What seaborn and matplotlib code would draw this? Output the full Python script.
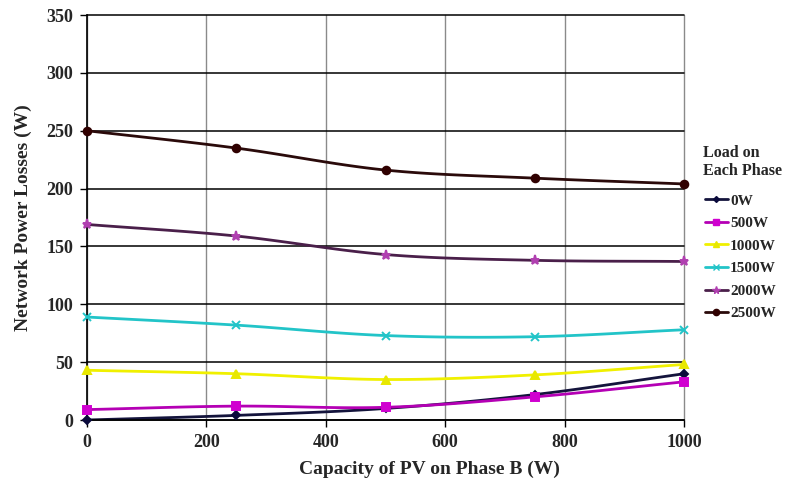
import numpy as np
import pandas as pd
import matplotlib
matplotlib.use("Agg")
import matplotlib.pyplot as plt
from matplotlib.lines import Line2D
import seaborn as sns

# PV capacity on phase B (W)
pv_capacity = [0, 250, 500, 750, 1000]

# Network power losses (W) for each per-phase load
loss_0w = [0, 4, 10, 22, 40]
loss_500w = [9, 12, 11, 20, 33]
loss_1000w = [43, 40, 35, 39, 48]
loss_1500w = [89, 82, 73, 72, 78]
loss_2000w = [169, 159, 143, 138, 137]
loss_2500w = [250, 235, 216, 209, 204]

series_names = ["0W", "500W", "1000W", "1500W", "2000W", "2500W"]
series_values = [loss_0w, loss_500w, loss_1000w, loss_1500w, loss_2000w, loss_2500w]
line_colors = ["#14143c", "#b400b4", "#f0f000", "#22c4c8", "#4a1f4a", "#2a0a0a"]
marker_colors = ["#0a0a3c", "#d000d0", "#e8e800", "#22c4c8", "#b040b0", "#300000"]
markers = ["D", "s", "^", "x", "*", "o"]
marker_sizes = [4, 5.5, 5.5, 5.5, 6.5, 5.5]


def smooth_curve(x, y, n=30):
    """Catmull-Rom spline through the points, like a smoothed spreadsheet line."""
    x = np.asarray(x, float)
    y = np.asarray(y, float)
    px = np.concatenate([[2 * x[0] - x[1]], x, [2 * x[-1] - x[-2]]])
    py = np.concatenate([[2 * y[0] - y[1]], y, [2 * y[-1] - y[-2]]])
    xs, ys = [], []
    t = np.linspace(0, 1, n, endpoint=False)
    for i in range(1, len(px) - 2):
        for p, out in ((px, xs), (py, ys)):
            p0, p1, p2, p3 = p[i - 1], p[i], p[i + 1], p[i + 2]
            out.append(0.5 * ((2 * p1) + (-p0 + p2) * t
                              + (2 * p0 - 5 * p1 + 4 * p2 - p3) * t ** 2
                              + (-p0 + 3 * p1 - 3 * p2 + p3) * t ** 3))
    xs.append([x[-1]])
    ys.append([y[-1]])
    return np.concatenate(xs), np.concatenate(ys)


curve_rows = []
point_rows = []
for name, vals in zip(series_names, series_values):
    cx, cy = smooth_curve(pv_capacity, vals)
    curve_rows.append(pd.DataFrame({"pv": cx, "loss": cy, "load": name}))
    point_rows.append(pd.DataFrame({"pv": pv_capacity, "loss": vals, "load": name}))
curves = pd.concat(curve_rows, ignore_index=True)
points = pd.concat(point_rows, ignore_index=True)

sns.set_theme(style="white")
plt.rcParams["font.family"] = ["Liberation Serif", "DejaVu Serif"]
plt.rcParams["font.weight"] = "bold"

fig = plt.figure(figsize=(7.86, 4.84), dpi=100)
ax = fig.add_axes([0.1107, 0.1322, 0.7596, 0.8368])

# grid: black horizontal lines, grey vertical lines
ax.set_axisbelow(True)
ax.yaxis.grid(True, color="black", linewidth=1.1)
ax.xaxis.grid(True, color="#8a8a8a", linewidth=1.0)

palette = dict(zip(series_names, line_colors))
sns.lineplot(data=curves, x="pv", y="loss", hue="load", palette=palette,
             sort=False, estimator=None, linewidth=2.0, legend=False, ax=ax)
for name, col, mk, ms in zip(series_names, marker_colors, markers, marker_sizes):
    sub = points[points["load"] == name]
    ax.plot(sub["pv"], sub["loss"], linestyle="none", marker=mk, markersize=ms,
            color=col, markeredgecolor=col, markeredgewidth=1.4, zorder=4,
            clip_on=False)

ax.set_xlim(0, 1000)
ax.set_ylim(0, 350)
ax.set_xticks([0, 200, 400, 600, 800, 1000])
ax.set_yticks(range(0, 351, 50))
ax.tick_params(axis="both", which="major", direction="out", length=5, width=1.0,
               color="black", labelsize=13, pad=5, bottom=True, left=True)
for lab in ax.get_xticklabels() + ax.get_yticklabels():
    lab.set_fontweight("bold")
for gl in ax.xaxis.get_gridlines() + ax.yaxis.get_gridlines():
    gl.set_clip_on(False)

for side in ("top", "right"):
    ax.spines[side].set_visible(False)
for side in ("left", "bottom"):
    ax.spines[side].set_color("black")
    ax.spines[side].set_linewidth(1.2)

ax.set_xlabel("Capacity of PV on Phase B (W)", fontsize=14, fontweight="bold")
ax.set_ylabel("Network Power Losses (W)", fontsize=14, fontweight="bold")
ax.xaxis.label.set_va("center")
ax.yaxis.label.set_va("center")
ax.xaxis.set_label_coords(0.574, -0.123)
ax.yaxis.set_label_coords(-0.107, 0.5)

# legend with a two-line title above the entries
fig.text(703 / 786, 1 - 162 / 484, "Load on\nEach Phase", fontsize=11.6,
         fontweight="bold", ha="left", va="center", linespacing=1.2)
handles = [Line2D([0], [0], color=lc, linewidth=2, marker=mk, markersize=ms - 1,
                  markerfacecolor=mc, markeredgecolor=mc)
           for lc, mc, mk, ms in zip(line_colors, marker_colors, markers, marker_sizes)]
leg = fig.legend(handles, series_names, loc="upper left",
                 bbox_to_anchor=(705 / 786, 1 - 194 / 484),
                 bbox_transform=fig.transFigure, frameon=False,
                 fontsize=11, handlelength=1.5, handletextpad=0.13,
                 labelspacing=0.58, borderpad=0.0, borderaxespad=0.0)
for t in leg.get_texts():
    t.set_fontweight("bold")

fig.savefig("out.png", dpi=100)
